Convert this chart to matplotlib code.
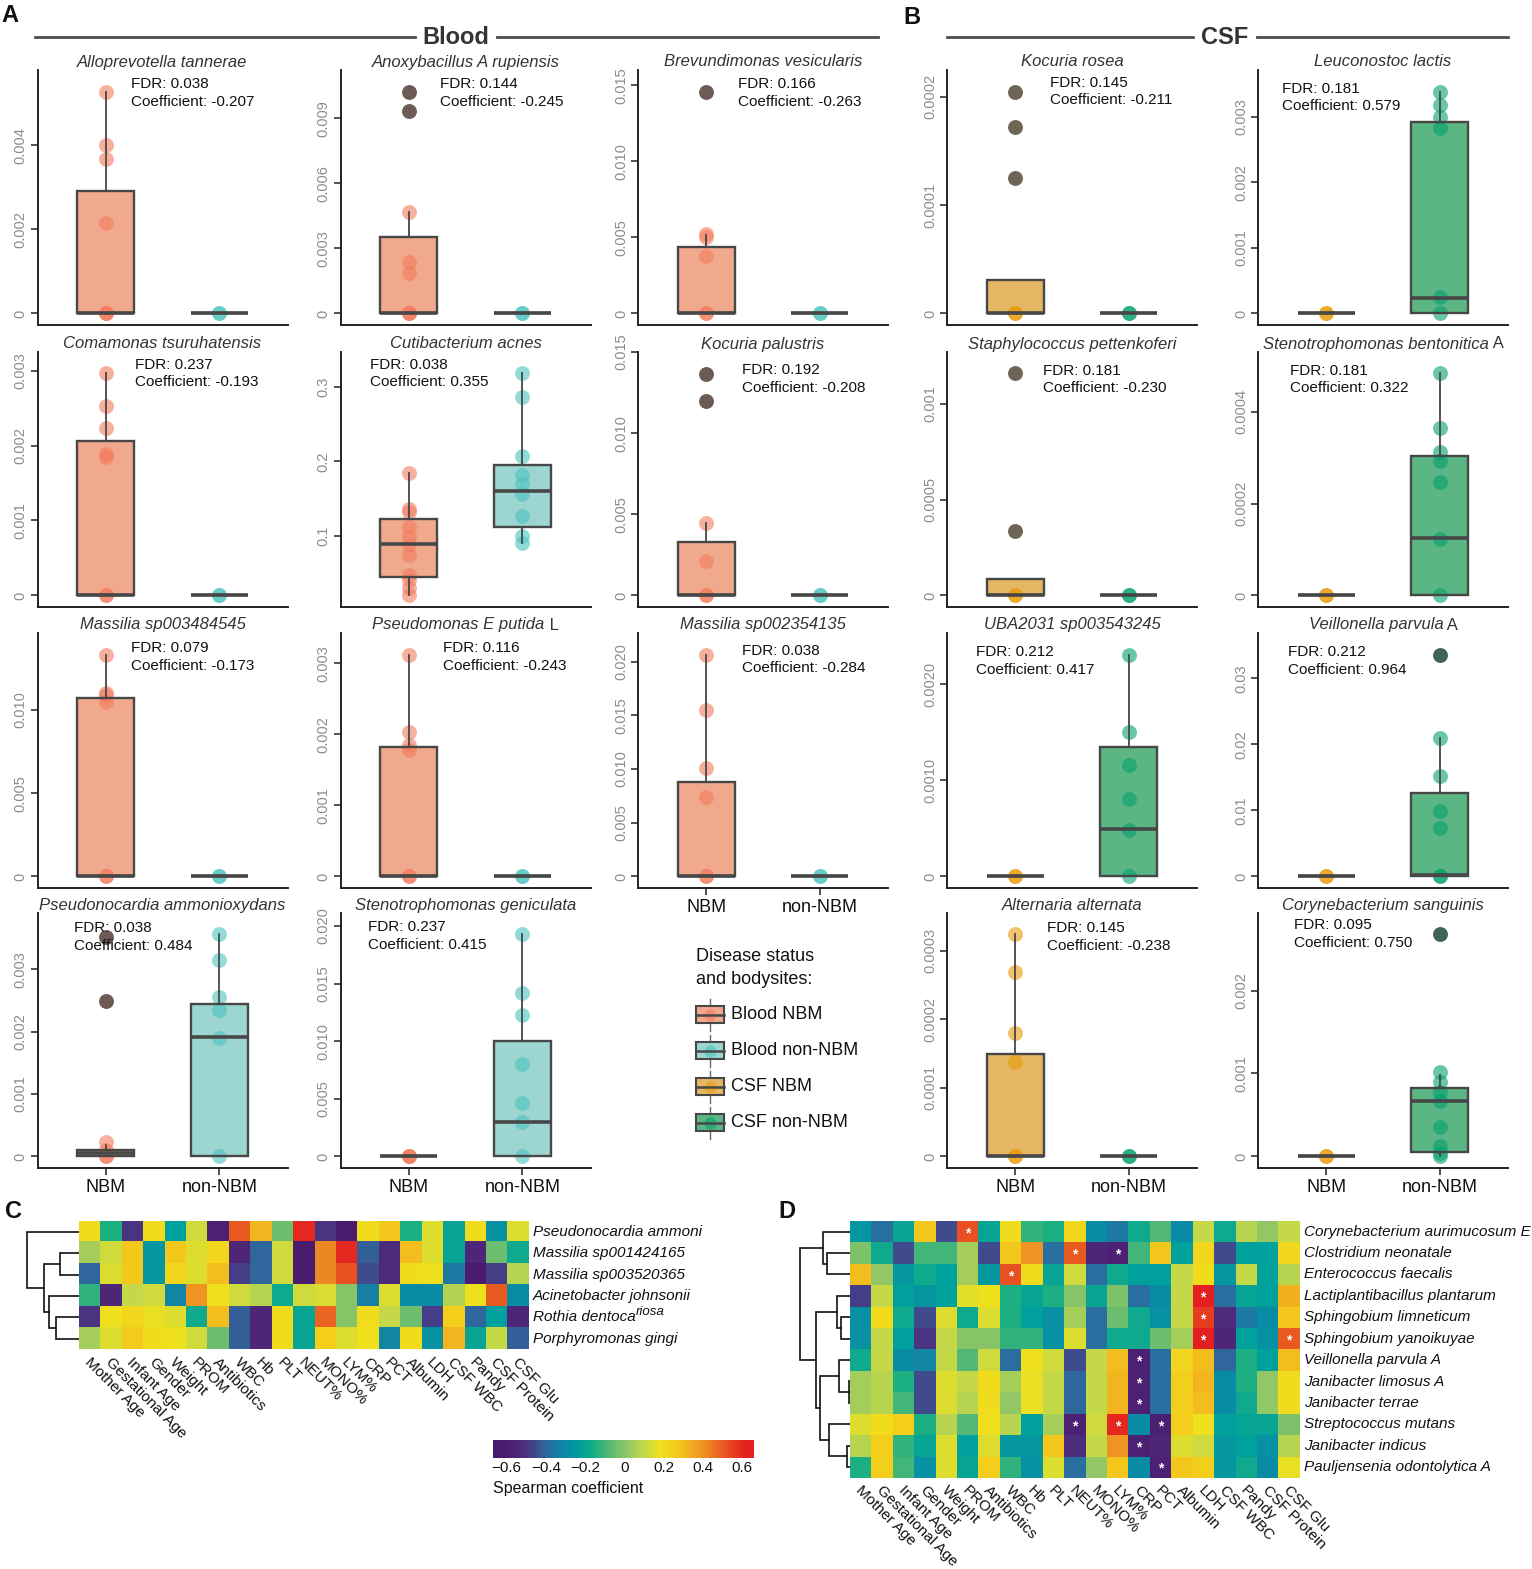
import numpy as np
import matplotlib
matplotlib.use('Agg')
import matplotlib.pyplot as plt
from matplotlib.colors import LinearSegmentedColormap
from matplotlib.patches import Rectangle

# ------------------------------------------------------------------ data
TITLES = ['Alloprevotella tannerae', 'Anoxybacillus A rupiensis', 'Brevundimonas vesicularis',
          'Comamonas tsuruhatensis', 'Cutibacterium acnes', 'Kocuria palustris',
          'Massilia sp003484545', 'Pseudomonas E putida', 'Massilia sp002354135',
          'Pseudonocardia ammonioxydans', 'Stenotrophomonas geniculata',
          'Kocuria rosea', 'Leuconostoc lactis', 'Staphylococcus pettenkoferi',
          'Stenotrophomonas bentonitica', 'UBA2031 sp003543245', 'Veillonella parvula',
          'Alternaria alternata', 'Corynebacterium sanguinis']
TITLE_SUFFIX = ['', '', '', '', '', '', '', ' L', '', '', '', '', '', '', ' A', '', ' A', '', '']
GROUP = ['Blood'] * 11 + ['CSF'] * 8
FDR = [0.038, 0.144, 0.166, 0.237, 0.038, 0.192, 0.079, 0.116, 0.038, 0.038, 0.237,
       0.145, 0.181, 0.181, 0.181, 0.212, 0.212, 0.145, 0.095]
COEF = [-0.207, -0.245, -0.263, -0.193, 0.355, -0.208, -0.173, -0.243, -0.284, 0.484, 0.415,
        -0.211, 0.579, -0.230, 0.322, 0.417, 0.964, -0.238, 0.750]
CATEGORIES = ['NBM', 'non-NBM']

NBM_POINTS = [
    [0.00527, 0.00400, 0.00368, 0.00214, 0, 0, 0],
    [0.00469, 0.00238, 0.00185, 0, 0, 0],
    [0.0052, 0.0050, 0.00376, 0, 0],
    [0.00297, 0.00253, 0.00224, 0.00189, 0.00185, 0, 0],
    [0.1847, 0.136, 0.1325, 0.1125, 0.099, 0.088, 0.0746, 0.0478, 0.041, 0.030, 0.021],
    [0.00445, 0.00213, 0, 0],
    [0.0133, 0.0110, 0.0109, 0.0105, 0, 0],
    [0.00312, 0.00203, 0.00185, 0.00178, 0, 0],
    [0.02062, 0.01551, 0.01008, 0.00744, 0, 0],
    [0.00023, 0.0001, 0, 0],
    [0, 0, 0],
    [0, 0],
    [0, 0],
    [0, 0],
    [0, 0],
    [0, 0],
    [0, 0],
    [0.000324, 0.000269, 0.00018, 0.000138, 0, 0],
    [0, 0],
]
NBM_OUTLIERS = [[], [0.01023, 0.00934], [0.01456], [], [], [0.01367, 0.01197], [], [], [],
                [0.003526, 0.002495], [], [0.0002046, 0.0001717, 0.0001252], [],
                [0.001164, 0.000338], [], [], [], [], []]
NON_POINTS = [
    [0, 0], [0, 0], [0, 0], [0, 0],
    [0.318, 0.2866, 0.2072, 0.182, 0.1694, 0.156, 0.127, 0.0995, 0.0902],
    [0, 0], [0, 0], [0, 0], [0, 0],
    [0.003564, 0.003152, 0.002554, 0.00235, 0.001907, 0],
    [0.01928, 0.01422, 0.01229, 0.00801, 0.00463, 0.00298, 0],
    [0, 0],
    [0.003383, 0.00318, 0.0030, 0.002824, 0.000254, 0],
    [0, 0],
    [0.0004835, 0.000364, 0.000313, 0.000293, 0.000248, 0.0001226, 0],
    [0.0023, 0.0015, 0.00116, 0.000804, 0.000485, 0],
    [0.021, 0.01523, 0.00983, 0.00732, 0, 0],
    [0, 0],
    [0.001012, 0.000892, 0.00078, 0.000663, 0.000354, 0.00012, 0.00004, 0],
]
NON_OUTLIERS = [[], [], [], [], [], [], [], [], [], [], [], [], [], [], [], [],
                [0.03354], [], [0.00268]]
# box stats: (whisker low, q1, median, q3, whisker high)
NBM_BOX = [
    (0, 0, 0, 0.0029, 0.00527), (0, 0, 0, 0.00351, 0.00469), (0, 0, 0, 0.00438, 0.00514),
    (0, 0, 0, 0.00206, 0.00297), (0.0213, 0.0446, 0.0889, 0.1228, 0.1847),
    (0, 0, 0.00005, 0.00328, 0.00445), (0, 0, 0, 0.0107, 0.0133), (0, 0, 0, 0.00182, 0.00312),
    (0, 0, 0, 0.00878, 0.02062), (0, 0, 0.00006, 0.000107, 0.00019), (0, 0, 0, 0, 0),
    (0, 0, 0, 0.0000307, 0.0000307), (0, 0, 0, 0, 0), (0, 0, 0, 0.0000856, 0.0000856),
    (0, 0, 0, 0, 0), (0, 0, 0, 0, 0), (0, 0, 0, 0, 0), (0, 0, 0, 0.0001496, 0.000324),
    (0, 0, 0, 0, 0)]
NON_BOX = [
    (0, 0, 0, 0, 0), (0, 0, 0, 0, 0), (0, 0, 0, 0, 0), (0, 0, 0, 0, 0),
    (0.0902, 0.1116, 0.1607, 0.1947, 0.318),
    (0, 0, 0, 0, 0), (0, 0, 0, 0, 0), (0, 0, 0, 0, 0), (0, 0, 0, 0, 0),
    (0, 0, 0.001913, 0.002447, 0.003564), (0, 0, 0.00298, 0.01006, 0.01928),
    (0, 0, 0, 0, 0), (0, 0, 0.000238, 0.002925, 0.003383), (0, 0, 0, 0, 0),
    (0, 0, 0.0001248, 0.0003037, 0.0004835), (0, 0, 0.000495, 0.00134, 0.0023),
    (0, 0, 0.00025, 0.01262, 0.021), (0, 0, 0, 0, 0),
    (0, 0.000053, 0.000663, 0.000824, 0.000984)]
YMAX = [0.005786, 0.01123, 0.0160, 0.003249, 0.3465, 0.01498, 0.01462, 0.003427, 0.02267,
        0.003905, 0.02113, 0.0002246, 0.003714, 0.001272, 0.00053, 0.00253, 0.03686,
        0.000355, 0.002936]
YMIN = [-0.0477 * v for v in YMAX]
YMIN[4] = 0.005
YTICKS = [[0, 0.002, 0.004], [0, 0.003, 0.006, 0.009], [0, 0.005, 0.010, 0.015],
          [0, 0.001, 0.002, 0.003], [0.1, 0.2, 0.3], [0, 0.005, 0.010, 0.015],
          [0, 0.005, 0.010], [0, 0.001, 0.002, 0.003], [0, 0.005, 0.010, 0.015, 0.020],
          [0, 0.001, 0.002, 0.003], [0, 0.005, 0.010, 0.015, 0.020],
          [0, 0.0001, 0.0002], [0, 0.001, 0.002, 0.003], [0, 0.0005, 0.001],
          [0, 0.0002, 0.0004], [0, 0.0010, 0.0020], [0, 0.01, 0.02, 0.03],
          [0, 0.0001, 0.0002, 0.0003], [0, 0.001, 0.002]]
YTICKLABELS = [['0', '0.002', '0.004'], ['0', '0.003', '0.006', '0.009'],
               ['0', '0.005', '0.010', '0.015'], ['0', '0.001', '0.002', '0.003'],
               ['0.1', '0.2', '0.3'], ['0', '0.005', '0.010', '0.015'],
               ['0', '0.005', '0.010'], ['0', '0.001', '0.002', '0.003'],
               ['0', '0.005', '0.010', '0.015', '0.020'], ['0', '0.001', '0.002', '0.003'],
               ['0', '0.005', '0.010', '0.015', '0.020'], ['0', '0.0001', '0.0002'],
               ['0', '0.001', '0.002', '0.003'], ['0', '0.0005', '0.001'],
               ['0', '0.0002', '0.0004'], ['0', '0.0010', '0.0020'],
               ['0', '0.01', '0.02', '0.03'], ['0', '0.0001', '0.0002', '0.0003'],
               ['0', '0.001', '0.002']]

LEGEND_LABELS = ['Blood NBM', 'Blood non-NBM', 'CSF NBM', 'CSF non-NBM']

HEAT_COLS = ['Mother Age', 'Gestational Age', 'Infant Age', 'Gender', 'Weight', 'PROM',
             'Antibiotics', 'WBC', 'Hb', 'PLT', 'NEUT%', 'MONO%', 'LYM%', 'CRP', 'PCT',
             'Albumin', 'LDH', 'CSF WBC', 'Pandy', 'CSF Protein', 'CSF Glu']
C_ROWS = ['Pseudonocardia ammoni', 'Massilia sp001424165', 'Massilia sp003520365',
          'Acinetobacter johnsonii', 'Rothia dentoca', 'Porphyromonas gingi']
C_ROW_SUPER = ['', '', '', '', 'riosa', '']
C_VALUES = [
    [0.2, -0.15, -0.5, 0.2, -0.22, 0.12, -0.58, 0.5, 0.32, -0.05, 0.6, -0.5, -0.6, 0.2, 0.28, -0.15, 0.15, -0.2, 0.2, -0.28, 0.15],
    [0.05, 0.12, 0.28, -0.25, 0.28, 0.15, 0.22, -0.55, -0.4, 0.12, -0.62, 0.42, 0.6, -0.42, -0.52, 0.3, 0.15, -0.2, -0.55, -0.05, -0.18],
    [-0.4, 0.15, 0.28, -0.25, 0.22, 0.15, 0.3, -0.48, -0.4, 0.12, -0.62, 0.42, 0.52, -0.45, -0.52, 0.2, 0.18, -0.35, -0.62, -0.48, 0.08],
    [-0.12, -0.55, 0.1, 0.12, -0.32, 0.4, 0.18, 0.12, 0.08, -0.18, 0.12, 0.14, 0.0, -0.33, 0.15, -0.3, -0.3, 0.07, 0.18, 0.5, -0.3],
    [-0.5, 0.18, 0.22, 0.17, 0.15, -0.18, 0.3, -0.42, -0.55, 0.2, -0.2, 0.48, 0.0, 0.2, 0.1, -0.05, -0.48, 0.25, -0.4, -0.22, -0.55],
    [0.05, 0.15, 0.27, 0.2, 0.18, 0.12, -0.05, -0.42, -0.55, 0.2, -0.2, 0.25, 0.15, 0.18, -0.32, 0.2, -0.28, 0.32, -0.2, 0.1, -0.42],
]
C_MERGES = [(1, 2, 18.2), (4, 5, 22.1), (3, 7, 29.6), (6, 8, 34.4), (0, 9, 51.6)]

D_ROWS = ['Corynebacterium aurimucosum E', 'Clostridium neonatale', 'Enterococcus faecalis',
          'Lactiplantibacillus plantarum', 'Sphingobium limneticum', 'Sphingobium yanoikuyae',
          'Veillonella parvula A', 'Janibacter limosus A', 'Janibacter terrae',
          'Streptococcus mutans', 'Janibacter indicus', 'Pauljensenia odontolytica A']
D_VALUES = [
    [-0.25, -0.38, -0.2, 0.28, -0.45, 0.52, -0.2, 0.2, -0.12, -0.15, 0.22, -0.3, -0.35, -0.18, -0.08, -0.3, 0.1, -0.18, 0.08, 0.02, 0.1],
    [-0.02, -0.18, -0.45, -0.1, -0.1, 0.05, -0.45, 0.28, 0.4, -0.38, 0.5, -0.55, -0.58, -0.1, 0.28, -0.22, 0.22, -0.45, -0.22, -0.22, 0.22],
    [0.3, 0.02, -0.25, -0.18, -0.22, 0.05, -0.25, 0.52, 0.2, -0.2, 0.12, -0.38, -0.18, -0.22, -0.22, 0.1, 0.2, -0.25, 0.1, -0.22, 0.08],
    [-0.48, 0.1, -0.22, -0.25, -0.22, 0.16, 0.18, -0.15, -0.2, -0.15, 0.0, -0.2, -0.02, -0.38, -0.3, 0.1, 0.62, -0.38, -0.2, -0.22, 0.33],
    [-0.28, 0.2, -0.18, -0.45, 0.15, -0.18, 0.15, -0.15, -0.22, -0.28, 0.05, -0.38, -0.05, -0.18, -0.28, 0.1, 0.56, -0.52, -0.35, -0.3, 0.28],
    [-0.28, 0.1, -0.22, -0.5, 0.1, 0.0, 0.0, -0.12, -0.12, -0.28, 0.15, -0.38, -0.18, -0.18, -0.05, 0.05, 0.62, -0.55, -0.22, -0.28, 0.5],
    [-0.18, 0.1, -0.3, -0.32, 0.1, -0.08, 0.12, -0.38, 0.18, 0.12, -0.45, 0.1, 0.3, -0.58, -0.38, 0.22, 0.3, -0.4, -0.15, -0.22, 0.3],
    [0.05, 0.08, -0.15, -0.45, 0.15, 0.1, 0.2, 0.05, 0.17, 0.1, -0.4, 0.1, 0.32, -0.58, -0.38, 0.25, 0.32, -0.3, -0.15, 0.02, 0.2],
    [0.05, 0.08, -0.1, -0.45, 0.15, 0.08, 0.2, 0.02, 0.17, 0.1, -0.4, 0.1, 0.32, -0.58, -0.38, 0.25, 0.3, -0.3, -0.18, 0.02, 0.2],
    [0.15, 0.2, 0.25, -0.15, 0.08, -0.08, 0.18, 0.08, -0.22, 0.05, -0.58, 0.12, 0.6, -0.3, -0.58, 0.25, 0.18, -0.22, -0.2, -0.2, -0.02],
    [0.08, 0.25, -0.12, -0.2, 0.15, -0.22, 0.15, -0.25, -0.25, 0.28, -0.52, 0.1, 0.4, -0.58, -0.55, 0.15, 0.12, -0.25, -0.22, -0.28, 0.08],
    [-0.15, 0.25, -0.1, -0.28, 0.15, -0.2, 0.25, -0.12, -0.28, 0.15, -0.38, 0.02, 0.28, -0.3, -0.58, 0.28, 0.25, -0.25, -0.18, -0.3, 0.17],
]
D_STARS = [(0, 5), (1, 10), (1, 12), (2, 7), (3, 16), (4, 16), (5, 16), (5, 20), (6, 13),
           (7, 13), (8, 13), (9, 10), (9, 12), (9, 14), (10, 13), (11, 14)]
D_MERGES = [(1, 2, 22.7), (0, 12, 26.7), (4, 5, 9.3), (3, 14, 13.3), (7, 8, 1.0),
            (6, 16, 10.7), (10, 11, 3.0), (9, 18, 20.7), (17, 19, 30.0), (15, 20, 34.0),
            (13, 21, 50.0)]

CB_TICKS = [-0.6, -0.4, -0.2, 0, 0.2, 0.4, 0.6]
CB_TICKLABELS = ['\u22120.6', '\u22120.4', '\u22120.2', '0', '0.2', '0.4', '0.6']

# ------------------------------------------------------------------ style
plt.rcParams['font.family'] = ['Liberation Sans', 'DejaVu Sans']
EDGE = '#474747'
FILL = {'Blood': ('#F0A98D', '#9DD5D1'), 'CSF': ('#E5B664', '#5BB684')}
PT = {'Blood': ('#F47C5E', '#4CC3BF'), 'CSF': ('#E89A06', '#05A06F')}
OUTC = {'Blood': ('#6D5B55', '#3E6A66'), 'CSF': ('#6E6556', '#3F6455')}
VMIN, VMAX = -0.67, 0.66
CMAP_STOPS = [-0.67, -0.6, -0.52, -0.45, -0.40, -0.30, -0.22, -0.15, -0.05, 0.02, 0.10,
              0.18, 0.27, 0.40, 0.50, 0.62, 0.66]
CMAP_COLORS = ['#4A1A6C', '#4C1D6F', '#4E2C7C', '#3F4C8E', '#2E6A9E', '#0B8BA6', '#00A19C',
               '#1BAF82', '#6DBD70', '#92C864', '#C3D84A', '#EFE11E', '#F5CB1C', '#EF9324',
               '#EA5C22', '#E41F1F', '#E41F1F']
CMAP = LinearSegmentedColormap.from_list(
    'spear', [((s - VMIN) / (VMAX - VMIN), c) for s, c in zip(CMAP_STOPS, CMAP_COLORS)])

W, H = 1532, 1569
fig = plt.figure(figsize=(W / 100, H / 100), dpi=100)
fig.patch.set_facecolor('white')


def px_axes(l, t, r, b, z=1):
    a = fig.add_axes([l / W, 1 - b / H, (r - l) / W, (b - t) / H])
    a.set_zorder(z)
    return a


overlay = px_axes(0, 0, W, H, z=0)
overlay.set_xlim(0, W)
overlay.set_ylim(H, 0)
overlay.axis('off')

# ------------------------------------------------------------------ box panels
COL_LEFT = [37.5, 340.5, 638, 947, 1258]
ROW_TOP = [70, 352, 633, 913]
PW, PH = 250, 255
GRID = [(0, 0), (0, 1), (0, 2), (1, 0), (1, 1), (1, 2), (2, 0), (2, 1), (2, 2), (3, 0), (3, 1),
        (0, 3), (0, 4), (1, 3), (1, 4), (2, 3), (2, 4), (3, 3), (3, 4)]
XLABEL_PANELS = [8, 9, 10, 17, 18]
TEXT_X = [0.374, 0.40, 0.40, 0.39, 0.12, 0.418, 0.374, 0.41, 0.416, 0.146, 0.112,
          0.41, 0.095, 0.384, 0.13, 0.116, 0.12, 0.40, 0.144]
TEXT_Y = [84, 84, 84, 365, 365, 370, 648, 648, 651, 928, 927, 83, 89, 371, 371, 652, 652, 928, 925]

for i in range(19):
    r, c = GRID[i]
    l, t = COL_LEFT[c], ROW_TOP[r]
    ax = px_axes(l, t, l + PW, t + PH, z=2)
    g = GROUP[i]
    stats = []
    for box in (NBM_BOX[i], NON_BOX[i]):
        lo, q1, med, q3, hi = box
        stats.append(dict(whislo=lo, q1=q1, med=med, q3=q3, whishi=hi, fliers=[]))
    # fill
    bf = ax.bxp(stats, positions=[1, 2], widths=0.5, patch_artist=True, showcaps=False,
                boxprops=dict(linewidth=0), medianprops=dict(linewidth=0),
                whiskerprops=dict(linewidth=0), manage_ticks=False, zorder=1)
    for patch, fc in zip(bf['boxes'], FILL[g]):
        patch.set_facecolor(fc)
        patch.set_edgecolor('none')
    # points
    for k, pts in enumerate((NBM_POINTS[i], NON_POINTS[i])):
        ax.scatter(np.full(len(pts), k + 1.0), pts, s=115, color=PT[g][k], alpha=0.6,
                   linewidths=0, zorder=3, clip_on=False)
    for k, pts in enumerate((NBM_OUTLIERS[i], NON_OUTLIERS[i])):
        if pts:
            ax.scatter(np.full(len(pts), k + 1.0), pts, s=115, color=OUTC[g][k],
                       linewidths=0, zorder=5)
    # outlines
    bl = ax.bxp(stats, positions=[1, 2], widths=0.5, patch_artist=True, showcaps=False,
                boxprops=dict(edgecolor=EDGE, facecolor='none', linewidth=1.7),
                medianprops=dict(color=EDGE, linewidth=2.6, solid_capstyle='butt'),
                whiskerprops=dict(color=EDGE, linewidth=1.3),
                manage_ticks=False, zorder=4)
    ax.set_xlim(0.4, 2.6)
    ax.set_ylim(YMIN[i], YMAX[i])
    for s in ['top', 'right']:
        ax.spines[s].set_visible(False)
    for s in ['left', 'bottom']:
        ax.spines[s].set_linewidth(1.4)
        ax.spines[s].set_color('#222222')
    ax.set_yticks(YTICKS[i])
    ax.set_yticklabels(YTICKLABELS[i], rotation=90, va='center', color='#8c8c8c', fontsize=10.5)
    ax.tick_params(axis='y', length=5, width=1.2, color='#333333', pad=2)
    if i in XLABEL_PANELS:
        ax.set_xticks([1, 2])
        ax.set_xticklabels(CATEGORIES, fontsize=13, color='#111111')
        ax.tick_params(axis='x', length=5, width=1.2, color='#333333', pad=3)
    else:
        ax.set_xticks([])
    # title
    shift = 0.028 if TITLE_SUFFIX[i] else 0.0
    tt = ax.text(0.5 - shift, 1 + 8 / PH, TITLES[i], transform=ax.transAxes, ha='center',
                 va='center', fontsize=12, style='italic', color='#333333')
    if TITLE_SUFFIX[i]:
        ax.annotate(TITLE_SUFFIX[i], xy=(1, 0), xycoords=tt, ha='left', va='bottom',
                    fontsize=12, color='#333333')
    y1 = (t + PH - TEXT_Y[i]) / PH
    y2 = (t + PH - TEXT_Y[i] - 17.5) / PH
    ax.text(TEXT_X[i], y1, f'FDR: {FDR[i]:.3f}', transform=ax.transAxes, ha='left',
            va='center', fontsize=11, color='#111111', zorder=6)
    ax.text(TEXT_X[i], y2, f'Coefficient: {COEF[i]:.3f}', transform=ax.transAxes, ha='left',
            va='center', fontsize=11, color='#111111', zorder=6)

# ------------------------------------------------------------------ headers & letters
overlay.plot([35, 415], [37, 37], color='#4d4d4d', lw=2)
overlay.plot([497, 878], [37, 37], color='#4d4d4d', lw=2)
overlay.text(456, 37, 'Blood', ha='center', va='center', fontsize=17, fontweight='bold',
             color='#333333')
overlay.plot([947, 1193], [37, 37], color='#4d4d4d', lw=2)
overlay.plot([1257, 1508], [37, 37], color='#4d4d4d', lw=2)
overlay.text(1225, 37, 'CSF', ha='center', va='center', fontsize=17, fontweight='bold',
             color='#333333')
for letter, x, y in [('A', 10, 16), ('B', 912, 18), ('C', 14, 1211), ('D', 787, 1211)]:
    overlay.text(x, y, letter, ha='center', va='center', fontsize=17, fontweight='bold',
                 color='#111111')

# ------------------------------------------------------------------ legend
overlay.text(696, 956.7, 'Disease status', ha='left', va='center', fontsize=13, color='#111111')
overlay.text(696, 979.3, 'and bodysites:', ha='left', va='center', fontsize=13, color='#111111')
leg_fill = [FILL['Blood'][0], FILL['Blood'][1], FILL['CSF'][0], FILL['CSF'][1]]
leg_pt = [PT['Blood'][0], PT['Blood'][1], PT['CSF'][0], PT['CSF'][1]]
for k, lab in enumerate(LEGEND_LABELS):
    cy = 1014.7 + 36 * k
    overlay.plot([710, 710], [cy - 16, cy + 16], color='#666666', lw=1.0, zorder=1)
    overlay.add_patch(Rectangle((695.7, cy - 8.5), 28.3, 17, facecolor=leg_fill[k],
                                edgecolor=EDGE, lw=1.5, zorder=2))
    overlay.scatter([710], [cy], s=75, color=leg_pt[k], alpha=0.6, linewidths=0, zorder=3)
    overlay.plot([695.7, 724], [cy, cy], color=EDGE, lw=1.8, zorder=4)
    overlay.text(731, cy, lab, ha='left', va='center', fontsize=13, color='#111111')


# ------------------------------------------------------------------ heatmaps
def draw_dendro(ax, merges, n, maxh):
    pos = {j: (float(j), 0.0) for j in range(n)}
    for k, (a, b, h) in enumerate(merges):
        ya, ha_ = pos[a]
        yb, hb = pos[b]
        ax.plot([ha_, h, h, hb], [ya, ya, yb, yb], color='#111111', lw=1.2,
                solid_joinstyle='miter')
        pos[n + k] = ((ya + yb) / 2, h)
    ax.set_ylim(n - 0.5, -0.5)
    ax.set_xlim(maxh, 0)
    ax.axis('off')


def draw_heat(left, top, values, rows, supers, merges, stars):
    vals = np.array(values)
    nr, nc = vals.shape
    cw, ch = 21.4, 21.4
    right, bottom = left + nc * cw, top + nr * ch
    ax = px_axes(left, top, right, bottom, z=2)
    ax.imshow(vals, cmap=CMAP, vmin=VMIN, vmax=VMAX, aspect='auto', interpolation='nearest')
    ax.axis('off')
    for j, lab in enumerate(HEAT_COLS):
        ax.text(j + 0.1, nr - 0.5 + 0.25, lab, rotation=-45, rotation_mode='anchor',
                ha='left', va='top', fontsize=11, color='#111111')
    for i_, lab in enumerate(rows):
        tx = ax.text(nc - 0.5 + 0.22, i_, lab, ha='left', va='center', fontsize=11,
                     style='italic', color='#111111')
        if supers and supers[i_]:
            ax.annotate(supers[i_], xy=(1, 0.45), xycoords=tx, ha='left', va='bottom',
                        fontsize=9.5, style='italic', color='#111111')
    for (rr, cc) in stars:
        ax.text(cc, rr + 0.08, '*', ha='center', va='center', fontsize=10, color='white',
                fontweight='bold')
    dax = px_axes(left - 60, top, left, bottom, z=2)
    draw_dendro(dax, merges, nr, 60)


draw_heat(78.6, 1221, C_VALUES, C_ROWS, C_ROW_SUPER, C_MERGES, [])
draw_heat(850, 1221, D_VALUES, D_ROWS, None, D_MERGES, D_STARS)

# colorbar
cb = px_axes(493, 1440, 754, 1458, z=2)
grad = np.linspace(VMIN, VMAX, 512)[None, :]
cb.imshow(grad, cmap=CMAP, vmin=VMIN, vmax=VMAX, aspect='auto', extent=(VMIN, VMAX, 0, 1))
cb.set_yticks([])
cb.set_xticks(CB_TICKS)
cb.set_xticklabels(CB_TICKLABELS, fontsize=11, color='#111111')
cb.tick_params(axis='x', length=0, pad=2)
for s in cb.spines.values():
    s.set_visible(False)
overlay.text(493, 1488, 'Spearman coefficient', ha='left', va='center', fontsize=11.5,
             color='#111111')

fig.savefig('out.png', dpi=100, facecolor='white')
